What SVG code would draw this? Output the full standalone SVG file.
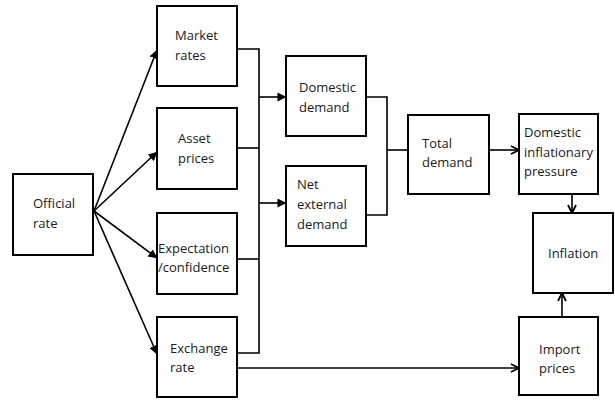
<svg xmlns="http://www.w3.org/2000/svg" width="615" height="405" viewBox="0 0 615 405">
<defs>
<style>
.box{fill:#fff;stroke:#000;stroke-width:2}
.t{font-family:"Open Sans","Liberation Sans",sans-serif;font-size:13px;fill:#1a1a1a}
.c{fill:none;stroke:#000;stroke-width:1.6}
</style>
<marker id="fa" viewBox="0 0 10 10" refX="9.5" refY="5" markerWidth="9" markerHeight="9" markerUnits="userSpaceOnUse" orient="auto">
<path d="M0,0 L10,5 L0,10 z" fill="#000"/>
</marker>
<marker id="oa" viewBox="0 0 10 10" refX="9" refY="5" markerWidth="10" markerHeight="10" markerUnits="userSpaceOnUse" orient="auto">
<path d="M1,1 L9,5 L1,9" fill="none" stroke="#000" stroke-width="1.8"/>
</marker>
</defs>
<rect width="615" height="405" fill="#fff"/>
<g id="connectors">
<line class="c" x1="94" y1="211" x2="157" y2="50" marker-end="url(#fa)"/>
<line class="c" x1="94" y1="211" x2="157" y2="152" marker-end="url(#fa)"/>
<line class="c" x1="94" y1="211" x2="157" y2="258" marker-end="url(#fa)"/>
<line class="c" x1="94" y1="211" x2="157" y2="354" marker-end="url(#fa)"/>
<polyline class="c" points="237,49 259,49 259,353 237,353"/>
<line class="c" x1="237" y1="148" x2="259" y2="148"/>
<line class="c" x1="237" y1="259" x2="259" y2="259"/>
<line class="c" x1="259" y1="97" x2="286" y2="97" marker-end="url(#fa)"/>
<line class="c" x1="259" y1="203" x2="286" y2="203" marker-end="url(#fa)"/>
<polyline class="c" points="366,97 387,97 387,215 366,215"/>
<line class="c" x1="387" y1="150" x2="408" y2="150"/>
<line class="c" x1="489" y1="150" x2="519" y2="150" marker-end="url(#oa)"/>
<line class="c" x1="572" y1="194" x2="572" y2="213" marker-end="url(#oa)"/>
<line class="c" x1="562" y1="317" x2="562" y2="293" marker-end="url(#oa)"/>
<line class="c" x1="237" y1="368" x2="519" y2="368" marker-end="url(#oa)"/>
</g>
<g id="official">
<rect class="box" x="13" y="174" width="80" height="81"/>
<text class="t" x="33" y="208">Official</text>
<text class="t" x="33" y="228">rate</text>
</g>
<g id="market">
<rect class="box" x="157" y="6" width="80" height="80"/>
<text class="t" x="175" y="40">Market</text>
<text class="t" x="175" y="60">rates</text>
</g>
<g id="asset">
<rect class="box" x="157" y="108" width="80" height="81"/>
<text class="t" x="178" y="143">Asset</text>
<text class="t" x="178" y="163">prices</text>
</g>
<g id="expectation">
<rect class="box" x="157" y="213" width="80" height="81"/>
<text class="t" x="158" y="253">Expectation</text>
<text class="t" x="158" y="272">/confidence</text>
</g>
<g id="exchange">
<rect class="box" x="157" y="317" width="80" height="80"/>
<text class="t" x="170" y="353">Exchange</text>
<text class="t" x="170" y="372">rate</text>
</g>
<g id="domestic">
<rect class="box" x="286" y="56" width="80" height="80"/>
<text class="t" x="299" y="92">Domestic</text>
<text class="t" x="299" y="112">demand</text>
</g>
<g id="netexternal">
<rect class="box" x="286" y="166" width="80" height="80"/>
<text class="t" x="297" y="189">Net</text>
<text class="t" x="297" y="209">external</text>
<text class="t" x="297" y="229">demand</text>
</g>
<g id="total">
<rect class="box" x="408" y="115" width="81" height="79"/>
<text class="t" x="422" y="148">Total</text>
<text class="t" x="422" y="167">demand</text>
</g>
<g id="dip">
<rect class="box" x="519" y="114" width="79" height="80"/>
<text class="t" x="524" y="137">Domestic</text>
<text class="t" x="524" y="157">inflationary</text>
<text class="t" x="524" y="176">pressure</text>
</g>
<g id="inflation">
<rect class="box" x="533" y="213" width="80" height="80"/>
<text class="t" x="548" y="258">Inflation</text>
</g>
<g id="import">
<rect class="box" x="519" y="317" width="79" height="78"/>
<text class="t" x="539" y="354">Import</text>
<text class="t" x="539" y="373">prices</text>
</g>
</svg>
